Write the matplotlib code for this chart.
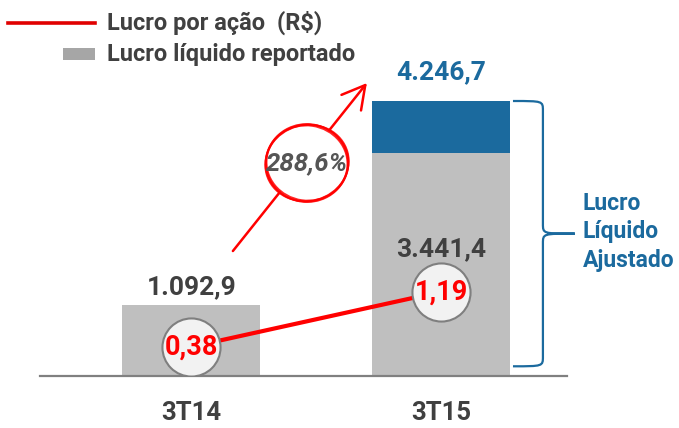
import matplotlib.pyplot as plt
from matplotlib.patches import Ellipse, Rectangle, PathPatch
from matplotlib.path import Path
from matplotlib.lines import Line2D
from matplotlib.transforms import ScaledTranslation

plt.rcParams['font.family'] = ['Roboto', 'DejaVu Sans']
plt.rcParams['font.weight'] = 'bold'

categories = ['3T14', '3T15']
lucro_reportado = [1092.9, 3441.4]
lucro_ajustado = 4246.7
lucro_por_acao = [0.38, 1.19]
crescimento = 288.6

reportado_labels = ['1.092,9', '3.441,4']
acao_labels = ['0,38', '1,19']
ajustado_label = '4.246,7'
crescimento_label = '288,6%'

GRAY = '#BFBFBF'
BLUE = '#1B6A9E'
RED = '#FF0000'
DARK = '#404040'

fig = plt.figure(figsize=(6.79, 4.28), dpi=100)
ax = fig.add_axes([40 / 679, 52 / 428, 527 / 679, 316 / 428])
x = [0, 1]
bw = 0.553

ax.bar(x, lucro_reportado, width=bw, color=GRAY, zorder=1)
ax.bar(1, lucro_ajustado - lucro_reportado[1], bottom=lucro_reportado[1],
       width=bw, color=BLUE, zorder=1)
ax.set_xlim(-0.607, 1.505)
ax.set_ylim(0, 4880)

for s in ['top', 'right', 'left']:
    ax.spines[s].set_visible(False)
ax.spines['bottom'].set_color('#808080')
ax.spines['bottom'].set_linewidth(1.6)
ax.set_yticks([])
ax.set_xticks(x)
ax.set_xticklabels(categories, fontsize=18.5, color=DARK, fontweight='bold')
ax.tick_params(axis='x', length=0, pad=18)

# value labels
ax.annotate(reportado_labels[0], (0, lucro_reportado[0]), xytext=(0, 8),
            textcoords='offset points', ha='center', va='baseline',
            fontsize=19, color=DARK)
ax.text(1, 1850, reportado_labels[1], ha='center', va='baseline',
        fontsize=19, color=DARK)
ax.annotate(ajustado_label, (1, lucro_ajustado), xytext=(0, 16),
            textcoords='offset points', ha='center', va='baseline',
            fontsize=19, color=BLUE)

# brace
top, bot = lucro_ajustado, 150
mid = (top + bot) / 2
x0 = 1 + bw / 2 + 0.012
x1 = x0 + 0.12
x2 = x1 + 0.128
r = 150
verts = [(x0, top), (x1, top), (x1, top), (x1, top - r),
         (x1, mid + r), (x1, mid), (x1, mid), (x2, mid),
         (x1, mid), (x1, mid), (x1, mid - r),
         (x1, bot + r), (x1, bot), (x1, bot), (x0, bot)]
codes = [Path.MOVETO, Path.CURVE4, Path.CURVE4, Path.CURVE4,
         Path.LINETO, Path.CURVE4, Path.CURVE4, Path.CURVE4,
         Path.CURVE4, Path.CURVE4, Path.CURVE4,
         Path.LINETO, Path.CURVE4, Path.CURVE4, Path.CURVE4]
ax.add_patch(PathPatch(Path(verts, codes), fill=False, edgecolor=BLUE,
                       lw=1.6, clip_on=False))
ax.text(1.569, mid + 30, 'Lucro\nLíquido\nAjustado', ha='left', va='center',
        fontsize=16.5, color=BLUE, linespacing=1.3)

# growth arrow
ax.annotate('', xy=(0.703, 4524), xytext=(0.166, 1930),
            arrowprops=dict(arrowstyle='->,head_length=0.9,head_width=0.5',
                            color=RED, lw=1.8, mutation_scale=18,
                            shrinkA=0, shrinkB=0),
            annotation_clip=False, zorder=3)
cx, cy = 0.463, 3289
tr = fig.dpi_scale_trans + ScaledTranslation(cx, cy, ax.transData)
ax.add_patch(Ellipse((0, 0), 0.81, 0.75, transform=tr, facecolor='white',
                     edgecolor='none', zorder=4))
for w, h, a in [(0.83, 0.77, 5), (0.81, 0.75, -8), (0.84, 0.76, 15), (0.82, 0.78, -2)]:
    ax.add_patch(Ellipse((0, 0), w, h, angle=a, transform=tr, facecolor='none',
                         edgecolor=RED, lw=1.3, alpha=0.85, zorder=5))
ax.text(cx, cy, crescimento_label, ha='center', va='center', fontsize=18.5,
        color='#555555', style='italic', zorder=6)

# lucro por ação line
ax2 = ax.twinx()
ax2.set_ylim(-0.05, 4.6)
ax2.axis('off')
ax2.plot(x, lucro_por_acao, color=RED, lw=3, zorder=2)
ax2.scatter(x, lucro_por_acao, s=1750, facecolor='#F2F2F2', edgecolor='#7F7F7F',
            lw=1.5, zorder=3)
for xi, v, lab in zip(x, lucro_por_acao, acao_labels):
    ax2.text(xi, v, lab, ha='center', va='center', fontsize=19.5, color=RED, zorder=4)

# legend
fig.add_artist(Line2D([8 / 679, 95 / 679], [1 - 23 / 428, 1 - 23 / 428],
                      color='#E00000', lw=2.6))
fig.add_artist(Rectangle((63 / 679, 1 - 60 / 428), 32 / 679, 12 / 428,
                         color='#A6A6A6', lw=0))
fig.text(107 / 679, 1 - 23 / 428, 'Lucro por ação  (R$)', ha='left',
         va='center', fontsize=17, color=DARK)
fig.text(107 / 679, 1 - 55 / 428, 'Lucro líquido reportado', ha='left',
         va='center', fontsize=17, color=DARK)

fig.savefig('out.png', dpi=100)
